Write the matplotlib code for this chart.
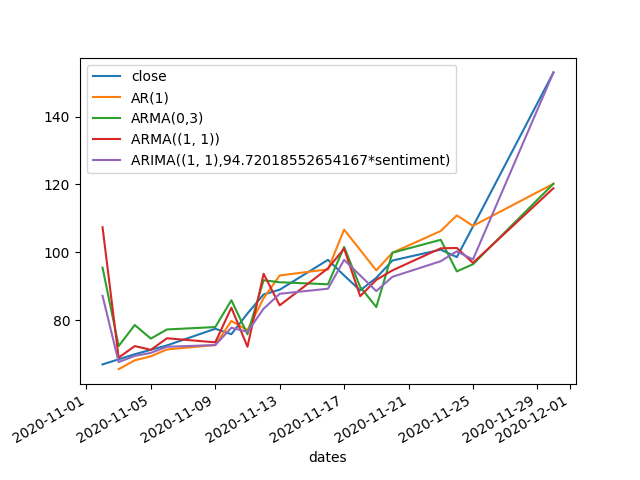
import numpy as np
import pandas as pd
import matplotlib
matplotlib.use('Agg')
import matplotlib.pyplot as plt

dates = pd.to_datetime([
    '2020-11-02', '2020-11-03', '2020-11-04', '2020-11-05', '2020-11-06',
    '2020-11-09', '2020-11-10', '2020-11-11', '2020-11-12', '2020-11-13',
    '2020-11-16', '2020-11-17', '2020-11-18', '2020-11-19', '2020-11-20',
    '2020-11-23', '2020-11-24', '2020-11-25', '2020-11-30'])

close = [67.0, 68.5, 70.0, 71.3, 72.6,
         77.5, 75.9, 82.0, 87.6, 89.0,
         97.8, 93.2, 88.8, 92.5, 97.6,
         100.8, 98.6, 107.6, 153.0]
ar1 = [np.nan, 65.6, 68.2, 69.4, 71.4,
       72.7, 79.8, 77.1, 86.5, 93.2,
       95.0, 106.7, 100.7, 94.7, 99.9,
       106.3, 110.9, 107.8, 120.2]
arma03 = [95.5, 72.4, 78.6, 74.6, 77.3,
          78.0, 85.9, 75.9, 91.8, 91.2,
          90.6, 101.6, 89.8, 83.9, 99.9,
          103.7, 94.4, 96.5, 120.2]
arma11 = [107.4, 69.0, 72.4, 71.3, 74.7,
          73.5, 83.7, 72.2, 93.7, 84.4,
          95.3, 101.1, 87.1, 91.9, 94.7,
          101.2, 101.3, 96.9, 118.9]
arima_sent = [87.2, 67.7, 69.5, 70.4, 72.2,
              72.7, 77.8, 76.6, 83.4, 87.8,
              89.3, 97.8, 93.2, 88.6, 92.8,
              97.4, 100.3, 97.9, 153.0]

labels = ['close', 'AR(1)', 'ARMA(0,3)', 'ARMA((1, 1))',
          'ARIMA((1, 1),94.72018552654167*sentiment)']

fig, ax = plt.subplots(figsize=(6.4, 4.8), dpi=100)
for series, label in zip([close, ar1, arma03, arma11, arima_sent], labels):
    ax.plot(dates, series, label=label)
ax.set_xlabel('dates')
ax.legend(loc='upper left')
fig.autofmt_xdate()
fig.savefig('out.png')
